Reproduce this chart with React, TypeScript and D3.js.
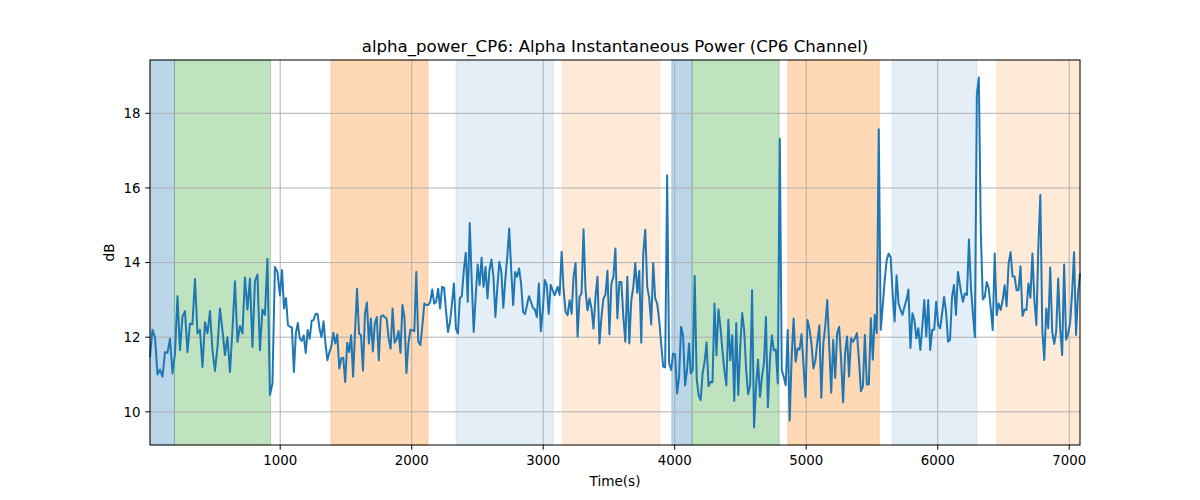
import * as d3 from "d3";
import { useEffect } from "react";

// alpha power samples, read in chunks (each chunk spread evenly over its time span)
const chunkSpans: [number, number][] = [
  [10, 998],
  [1014, 2050],
  [2066, 3087],
  [3110, 4109],
  [4122, 5130],
  [5145, 6154],
  [6177, 7082],
];

const powerA = [
  11.47, 12.2, 12.0, 11.0, 11.13, 10.94, 11.6, 11.58, 11.96, 11.03, 11.56, 13.1, 11.65, 12.55, 12.7, 11.6,
  12.37, 12.35, 13.56, 12.1, 12.2, 11.2, 12.4, 12.1, 12.7, 11.65, 11.1, 11.74, 12.77, 12.19, 11.52, 12.0,
  11.07, 12.2, 13.5, 11.87, 12.3, 12.1, 13.6, 12.74, 13.57, 11.74, 13.5, 13.68, 11.65, 12.74, 12.6, 14.1,
  10.45, 10.76, 13.88, 13.75, 13.12,
];
const powerB = [
  13.8, 12.77, 13.05, 12.32, 12.28, 12.26, 11.07, 12.1, 12.38, 11.96, 11.9, 12.05, 11.58, 12.19, 11.96, 12.44,
  12.46, 12.63, 12.62, 12.23, 12.0, 12.43, 11.83, 11.38, 11.6, 11.76, 12.12, 11.83, 12.07, 11.16, 11.43, 11.45,
  10.8, 11.85, 11.6, 12.05, 10.94, 12.19, 13.3, 12.1, 12.05, 11.1, 12.63, 12.93, 11.83, 12.5, 11.62, 12.37,
  12.54, 11.38, 12.54, 12.59, 12.54, 12.5, 11.96, 11.69, 12.77, 11.85, 11.94, 12.17, 11.58, 12.86, 12.54, 11.04,
  11.83, 12.2, 12.19, 12.16, 13.75, 11.88,
];
const powerC = [
  11.79, 12.3, 12.9, 12.86, 12.86, 12.95, 13.28, 12.9, 12.95, 13.3, 12.77, 13.35, 13.33, 12.7, 12.14, 12.4,
  12.9, 13.44, 12.23, 12.1, 13.05, 13.1, 13.8, 14.26, 12.95, 15.06, 13.53, 12.14, 13.08, 13.95, 13.4, 14.13,
  13.35, 13.88, 13.04, 13.8, 14.08, 13.62, 12.54, 13.35, 14.02, 13.75, 12.79, 13.53, 14.15, 14.91, 13.8, 12.86,
  13.75, 13.62, 13.84, 13.44, 12.68, 12.62, 12.86, 13.1, 12.95, 12.79, 12.74, 12.54, 13.44, 12.16, 12.72, 13.53,
  13.4, 12.63, 13.4, 13.26, 13.12,
];
const powerD = [
  13.35, 13.13, 14.29, 13.26, 12.68, 12.59, 12.99, 12.63, 13.62, 13.99, 12.01, 13.08, 13.17, 14.89, 13.26, 12.72,
  13.04, 12.77, 12.23, 13.08, 13.62, 11.83, 12.54, 13.04, 13.13, 13.78, 12.08, 13.44, 13.62, 14.38, 12.5, 13.48,
  13.48, 12.54, 11.88, 13.62, 11.83, 12.99, 13.35, 13.99, 13.19, 13.78, 11.85, 14.24, 14.88, 13.35, 13.04, 12.34,
  13.99, 13.04, 12.9, 12.46, 11.83, 11.21, 11.19, 16.34, 11.3, 11.12, 11.56, 11.54, 10.49, 10.94, 12.28, 12.05,
  10.71, 11.12, 11.83,
];
const powerE = [
  11.03, 11.12, 13.64, 10.89, 10.45, 10.31, 11.03, 11.34, 11.86, 10.69, 10.8, 10.79, 12.9, 11.52, 12.75, 12.28,
  11.65, 11.12, 10.71, 12.47, 11.38, 12.05, 10.29, 12.38, 10.45, 11.74, 12.65, 12.19, 11.12, 10.47, 10.71, 13.26,
  9.58, 10.67, 11.4, 10.4, 10.94, 11.29, 12.54, 10.12, 11.38, 12.05, 11.65, 11.67, 10.76, 17.32, 11.12, 10.94,
  10.71, 12.19, 9.76, 11.47, 12.5, 11.34, 11.7, 11.67, 12.08, 11.25, 10.4, 12.46, 12.23, 11.83, 11.16, 11.38,
  11.88, 12.32, 10.38, 11.83,
];
const powerF = [
  12.3, 13.0, 11.75, 10.51, 11.93, 10.91, 12.11, 12.28, 11.4, 10.26, 11.57, 12.02, 10.95, 11.97, 11.88, 11.97,
  12.11, 11.4, 10.55, 10.68, 12.06, 10.73, 10.73, 12.51, 11.4, 12.6, 12.11, 17.57, 12.2, 12.82, 13.53, 14.06,
  14.24, 14.15, 13.17, 12.42, 13.66, 12.91, 12.73, 12.6, 12.82, 13.0, 13.28, 11.71, 12.64, 12.46, 11.97, 12.24,
  11.66, 12.28, 13.0, 12.02, 13.0, 11.66, 12.2, 12.2, 12.95, 12.33, 12.24, 12.64, 13.08, 12.68, 11.88, 11.93,
  13.08, 13.4, 12.6, 13.75,
];
const powerG = [
  13.22, 12.95, 13.17, 13.13, 14.62, 13.35, 12.64, 12.0, 18.51, 18.96, 14.8, 13.01, 13.08, 13.48, 13.31, 12.77,
  12.19, 14.24, 12.59, 12.9, 12.73, 12.99, 13.39, 12.83, 13.97, 14.28, 13.63, 13.63, 13.26, 13.26, 13.9, 12.57,
  12.74, 12.73, 13.44, 13.06, 14.24, 12.99, 12.33, 14.42, 15.82, 12.19, 11.39, 12.77, 12.24, 13.87, 12.15, 11.82,
  12.15, 13.57, 12.24, 11.52, 13.95, 11.93, 12.1, 12.37, 13.17, 14.28, 12.06, 13.17, 13.71,
];

// shaded intervals
const bandStarts = [10, 196, 1386, 2338, 3148, 3978, 4132, 4861, 5654, 6450];
const bandEnds = [196, 927, 2123, 3076, 3887, 4132, 4794, 5555, 6298, 7082];
const bandColors = ["#1f77b4", "#2ca02c", "#ff7f0e", "#1f77b4", "#ff7f0e", "#1f77b4", "#2ca02c", "#ff7f0e", "#1f77b4", "#ff7f0e"];
const bandAlphas = [0.3, 0.3, 0.3, 0.12, 0.16, 0.3, 0.3, 0.3, 0.12, 0.16];

const xTicks = [1000, 2000, 3000, 4000, 5000, 6000, 7000];
const yTicks = [10, 12, 14, 16, 18];

const width = 1200;
const height = 500;
const margin = { top: 60, right: 120, bottom: 55, left: 150 };
const font = "DejaVu Sans, sans-serif";

export default function App() {
  useEffect(() => {
    document.body.style.margin = "0";
  }, []);

  const chunks = [powerA, powerB, powerC, powerD, powerE, powerF, powerG];
  const points: [number, number][] = [];
  chunks.forEach((vals, k) => {
    const [t0, t1] = chunkSpans[k];
    const step = (t1 - t0) / (vals.length - 1);
    vals.forEach((v, i) => points.push([t0 + i * step, v]));
  });

  const innerW = width - margin.left - margin.right;
  const innerH = height - margin.top - margin.bottom;

  const [minV, maxV] = d3.extent(points, (d) => d[1]) as [number, number];
  const pad = (maxV - minV) * 0.05;

  const x = d3.scaleLinear().domain([10, 7082]).range([0, innerW]);
  const y = d3.scaleLinear().domain([minV - pad, maxV + pad]).range([innerH, 0]);

  const line = d3
    .line<[number, number]>()
    .x((d) => x(d[0]))
    .y((d) => y(d[1]));

  return (
    <svg width={width} height={height} style={{ display: "block", background: "white" }} fontFamily={font}>
      <g transform={`translate(${margin.left},${margin.top})`}>
        {bandStarts.map((s, i) => (
          <rect
            key={i}
            x={x(s)}
            y={0}
            width={x(bandEnds[i]) - x(s)}
            height={innerH}
            fill={bandColors[i]}
            fillOpacity={bandAlphas[i]}
            stroke={bandColors[i]}
            strokeOpacity={bandAlphas[i]}
            strokeWidth={1}
          />
        ))}

        {/* grid */}
        {xTicks.map((t) => (
          <line key={`gx${t}`} x1={x(t)} x2={x(t)} y1={0} y2={innerH} stroke="#b0b0b0" strokeWidth={1} />
        ))}
        {yTicks.map((t) => (
          <line key={`gy${t}`} x1={0} x2={innerW} y1={y(t)} y2={y(t)} stroke="#b0b0b0" strokeWidth={1} />
        ))}

        <path d={line(points) ?? ""} fill="none" stroke="#1f77b4" strokeWidth={2} strokeLinejoin="round" />

        {/* spines */}
        <rect x={0} y={0} width={innerW} height={innerH} fill="none" stroke="black" strokeWidth={1} />

        {xTicks.map((t) => (
          <g key={`tx${t}`} transform={`translate(${x(t)},${innerH})`}>
            <line y1={0} y2={4.7} stroke="black" strokeWidth={1} />
            <text y={9.5} dy="0.76em" textAnchor="middle" fontSize={13.33} fill="black">
              {t}
            </text>
          </g>
        ))}
        {yTicks.map((t) => (
          <g key={`ty${t}`} transform={`translate(0,${y(t)})`}>
            <line x1={0} x2={-4.7} stroke="black" strokeWidth={1} />
            <text x={-9.5} dy="0.35em" textAnchor="end" fontSize={13.33} fill="black">
              {t}
            </text>
          </g>
        ))}

        <text x={innerW / 2} y={-8} textAnchor="middle" fontSize={16.6} fill="black">
          alpha_power_CP6: Alpha Instantaneous Power (CP6 Channel)
        </text>
        <text x={innerW / 2} y={innerH + 41} textAnchor="middle" fontSize={13.6} fill="black">
          Time(s)
        </text>
        <text
          transform={`translate(${-36},${innerH / 2}) rotate(-90)`}
          textAnchor="middle"
          fontSize={13.6}
          fill="black"
        >
          dB
        </text>
      </g>
    </svg>
  );
}
